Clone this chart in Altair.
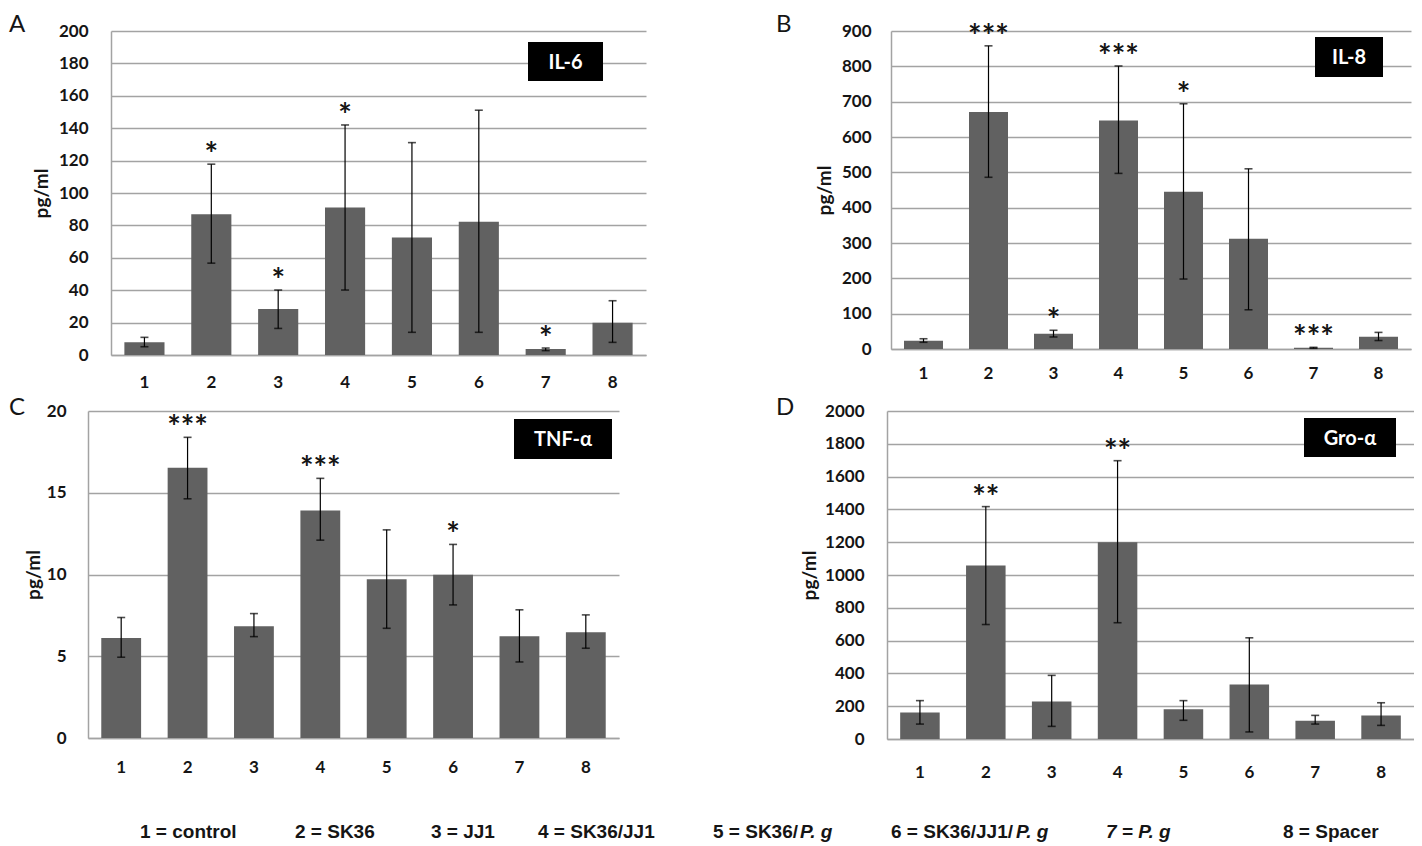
import altair as alt
import pandas as pd

# ---------------- data ----------------
groups = ["1", "2", "3", "4", "5", "6", "7", "8"]

il6_mean = [7.8, 86.9, 28.4, 91.1, 72.6, 82.2, 3.7, 19.9]
il6_low = [5.1, 56.7, 16.4, 40.1, 14.0, 14.0, 2.7, 7.8]
il6_high = [10.9, 117.8, 40.1, 142.0, 131.1, 151.1, 4.3, 33.5]
il6_sig = ["", "*", "*", "*", "", "", "*", ""]

il8_mean = [23.6, 671, 43.5, 647, 445, 312, 3.8, 35]
il8_low = [19, 486, 34, 497, 198, 111, 2, 24]
il8_high = [29, 858, 53, 801, 694, 510, 4.7, 47]
il8_sig = ["", "***", "*", "***", "*", "", "***", ""]

tnf_mean = [6.12, 16.53, 6.84, 13.92, 9.71, 9.98, 6.22, 6.47]
tnf_low = [4.94, 14.63, 6.20, 12.10, 6.71, 8.14, 4.65, 5.49]
tnf_high = [7.37, 18.39, 7.61, 15.88, 12.73, 11.84, 7.84, 7.53]
tnf_sig = ["", "***", "", "***", "", "*", "", ""]

gro_mean = [162, 1058, 229, 1200, 181, 333, 112, 144]
gro_low = [91, 698, 77, 709, 114, 43, 91, 83]
gro_high = [234, 1417, 388, 1697, 234, 617, 144, 221]
gro_sig = ["", "**", "", "**", "", "", "", ""]

legend_plain = ["1 = control", "2 = SK36", "3 = JJ1", "4 = SK36/JJ1",
                "5 = SK36/", "6 = SK36/JJ1/", "", "8 = Spacer"]
legend_italic = ["", "", "", "", "P. g", "P. g", "7 = P. g", ""]

# ---------------- style ----------------
FONT = "Lato"
BAR = "#616161"
GRID = "#a3a3a3"
INK = "#151515"


def panel(mean, low, high, sig, ymax, ystep, w, h, name, letter, L):
    df = pd.DataFrame({"group": groups, "mean": mean, "low": low,
                       "high": high, "sig": sig})
    xaxis = alt.Axis(labelAngle=0, labelPadding=L["xpad"], ticks=False,
                     tickSize=0, grid=False, domainColor=GRID, domainWidth=1.5)
    xscale = alt.Scale(paddingInner=0.4, paddingOuter=0.2)
    yscale = alt.Scale(domain=[0, ymax], nice=False, zero=True)
    yaxis = alt.Axis(values=list(range(0, ymax + 1, ystep)), format="d",
                     labelOverlap=False, title="pg/ml",
                     titleAngle=270, titleX=L["tx"], titleAlign="center",
                     titleBaseline="middle", labelPadding=L["ypad"],
                     ticks=False, tickSize=0, domainColor=GRID, domainWidth=1.5,
                     gridColor=GRID, gridWidth=1.5)

    def X():
        return alt.X("group:N", sort=groups, title=None, scale=xscale, axis=xaxis)

    def Y(field):
        return alt.Y(field, scale=yscale, axis=yaxis, title="pg/ml")

    base = alt.Chart(df)
    bars = base.mark_bar(color=BAR).encode(x=X(), y=Y("mean:Q"))
    rule = base.mark_rule(color="black", strokeWidth=1.2).encode(
        x=X(), y=Y("low:Q"), y2="high:Q")
    cap_hi = base.mark_tick(color="black", thickness=1.6, size=8).encode(
        x=X(), y=Y("high:Q"))
    cap_lo = base.mark_tick(color="black", thickness=1.6, size=8).encode(
        x=X(), y=Y("low:Q"))
    stars = base.transform_filter("datum.sig != ''").mark_text(
        font=FONT, fontSize=32, fontWeight="bold", baseline="alphabetic",
        dy=2, color=INK).encode(x=X(), y=Y("high:Q"), text="sig:N")
    lab = alt.Chart(pd.DataFrame({"t": [name]}))
    box = lab.mark_rect(color="black").encode(
        x=alt.value(L["box"][0]), x2=alt.value(L["box"][1]),
        y=alt.value(L["box"][2]), y2=alt.value(L["box"][3]))
    box_text = lab.mark_text(font=FONT, fontSize=20, fontWeight="bold",
                             color="white", align="center",
                             baseline="middle").encode(
        x=alt.value((L["box"][0] + L["box"][1]) / 2),
        y=alt.value((L["box"][2] + L["box"][3]) / 2 + 1),
        text="t:N")
    let = alt.Chart(pd.DataFrame({"t": [letter]})).mark_text(
        font=FONT, fontSize=24, fontWeight="normal", color=INK,
        align="left", baseline="top").encode(
        x=alt.value(L["letter"][0]), y=alt.value(L["letter"][1]), text="t:N")
    return alt.layer(bars, rule, cap_hi, cap_lo, stars, box, box_text, let).properties(
        width=w, height=h)


pA = panel(il6_mean, il6_low, il6_high, il6_sig, 200, 20, 535, 324, "IL-6", "A",
           dict(xpad=19, ypad=23, tx=-70, box=(417, 492, 11, 50), letter=(-102, -18)))
pB = panel(il8_mean, il8_low, il8_high, il8_sig, 900, 100, 520, 318, "IL-8", "B",
           dict(xpad=16, ypad=20, tx=-67, box=(424, 492, 6, 46), letter=(-115, -18)))
pC = panel(tnf_mean, tnf_low, tnf_high, tnf_sig, 20, 5, 531, 327, "TNF-α", "C",
           dict(xpad=21, ypad=22, tx=-55, box=(426, 524, 8, 48), letter=(-79, -15)))
pD = panel(gro_mean, gro_low, gro_high, gro_sig, 2000, 200, 527, 328, "Gro-α", "D",
           dict(xpad=25, ypad=23, tx=-78, box=(417, 509, 7, 46), letter=(-111, -15)))


def spacer():
    return alt.Chart(pd.DataFrame({"t": [""]})).mark_text().encode(
        text="t:N").properties(width=1, height=1)


# legend row (annotation text)
legend_x_plain = [132, 287, 423, 530, 705, 883, 0, 1275]
legend_x_italic = [0, 0, 0, 0, 792, 1008, 1098, 0]
layers = []
for i in range(len(groups)):
    if legend_plain[i]:
        layers.append(alt.Chart(pd.DataFrame({"t": [legend_plain[i]]})).mark_text(
            font="Liberation Sans", fontSize=19, fontWeight="bold", color=INK,
            align="left", baseline="middle").encode(
            x=alt.value(legend_x_plain[i]), y=alt.value(10), text="t:N"))
    if legend_italic[i]:
        layers.append(alt.Chart(pd.DataFrame({"t": [legend_italic[i]]})).mark_text(
            font="Liberation Sans", fontSize=19, fontWeight="bold",
            fontStyle="italic", color=INK, align="left",
            baseline="middle").encode(
            x=alt.value(legend_x_italic[i]), y=alt.value(10), text="t:N"))
legend = alt.layer(*layers).properties(width=1400, height=20)

row1 = alt.hconcat(spacer(), alt.hconcat(pA, pB, spacing=130), spacing=0)
row2 = alt.hconcat(spacer(), alt.hconcat(pC, pD, spacing=157), spacing=0)
top = alt.vconcat(row1, row2, spacing=6)

chart = alt.vconcat(top, legend, spacing=42).properties(
    padding={"left": 0, "top": 5, "right": 0, "bottom": 0}).configure_view(
    stroke=None).configure_axis(
    labelFont=FONT, labelFontSize=17, labelFontWeight="bold", labelColor=INK,
    titleFont=FONT, titleFontSize=19, titleFontWeight="bold", titleColor=INK)

chart.save("out.html", embed_options={"renderer": "svg", "actions": False})
